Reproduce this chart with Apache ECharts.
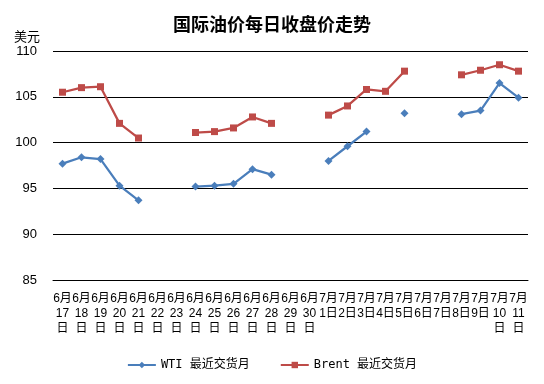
<!DOCTYPE html>
<html>
<head>
<meta charset="utf-8">
<script src="https://cdn.jsdelivr.net/npm/echarts@6/dist/echarts.min.js"></script>
<style>html,body{margin:0;padding:0;background:#fff}#c{width:544px;height:384px}</style>
</head>
<body>
<div id="c"></div>
<script>
var categories = ["6月\n17\n日","6月\n18\n日","6月\n19\n日","6月\n20\n日","6月\n21\n日","6月\n22\n日","6月\n23\n日","6月\n24\n日","6月\n25\n日","6月\n26\n日","6月\n27\n日","6月\n28\n日","6月\n29\n日","6月\n30\n日","7月\n1日","7月\n2日","7月\n3日","7月\n4日","7月\n5日","7月\n6日","7月\n7日","7月\n8日","7月\n9日","7月\n10\n日","7月\n11\n日"];
var wti   = [97.7, 98.4, 98.2, 95.3, 93.7, null, null, 95.2, 95.3, 95.5, 97.1, 96.5, null, null, 98.0, 99.6, 101.2, null, 103.2, null, null, 103.1, 103.5, 106.5, 104.9];
var brent = [105.5, 106.0, 106.1, 102.1, 100.5, null, null, 101.1, 101.2, 101.6, 102.8, 102.1, null, null, 103.0, 104.0, 105.8, 105.6, 107.8, null, null, 107.4, 107.9, 108.5, 107.8];
var yTicks = [85, 90, 95, 100, 105, 110];

var chart = echarts.init(document.getElementById('c'));
chart.setOption({
  backgroundColor: '#fff',
  animation: false,
  title: {
    text: '国际油价每日收盘价走势',
    left: 'center', top: 10,
    textStyle: {fontFamily: 'Noto Sans CJK SC', fontSize: 18, fontWeight: 'bold', color: '#000'}
  },
  legend: {
    bottom: 8, left: 'center', itemGap: 30, itemWidth: 28, itemHeight: 8,
    textStyle: {fontFamily: 'DejaVu Sans Mono, Noto Sans CJK SC', fontSize: 12, color: '#000'},
    data: ['WTI 最近交货月', 'Brent 最近交货月']
  },
  grid: {left: 53, right: 16, top: 51, bottom: 104, containLabel: false},
  xAxis: {
    type: 'category', data: categories, boundaryGap: true,
    axisLine: {show: true, lineStyle: {color: '#000', width: 1}},
    axisTick: {show: false},
    axisLabel: {interval: 0, margin: 11, lineHeight: 15, fontSize: 12, color: '#000', fontFamily: 'Liberation Sans, Noto Sans CJK SC'}
  },
  yAxis: {
    type: 'value', min: yTicks[0], max: yTicks[yTicks.length - 1], interval: 5,
    name: '美元', nameLocation: 'end', nameGap: 8,
    nameTextStyle: {align: 'right', padding: [0, 13, 0, 0], fontSize: 13, color: '#000', fontFamily: 'Noto Sans CJK SC'},
    axisLine: {show: false}, axisTick: {show: false},
    axisLabel: {margin: 16, fontSize: 13, color: '#000', fontFamily: 'Liberation Sans'},
    splitLine: {show: true, lineStyle: {color: '#000', width: 1}}
  },
  series: [
    {name: 'WTI 最近交货月', type: 'line', data: wti, connectNulls: false,
     symbol: 'diamond', symbolSize: 8, showAllSymbol: true,
     itemStyle: {color: '#4A7EBB'}, lineStyle: {color: '#4A7EBB', width: 2.25}},
    {name: 'Brent 最近交货月', type: 'line', data: brent, connectNulls: false,
     symbol: 'rect', symbolSize: 7, showAllSymbol: true,
     itemStyle: {color: '#BE4B48'}, lineStyle: {color: '#BE4B48', width: 2.25}}
  ]
});
</script>
</body>
</html>
